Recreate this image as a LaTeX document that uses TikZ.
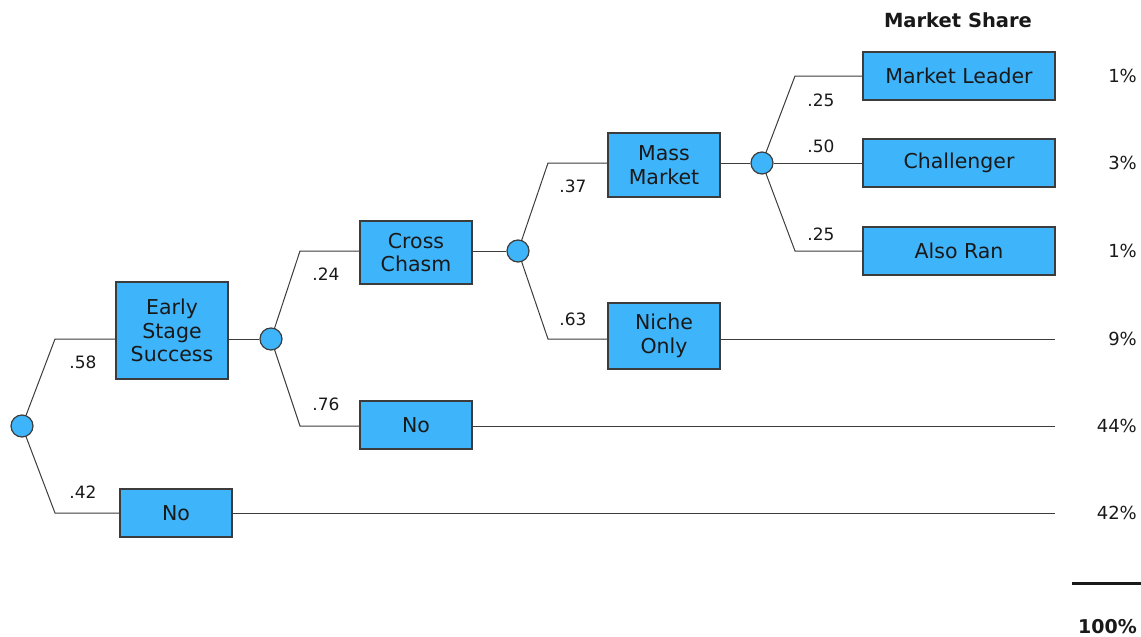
\documentclass[tikz,border=0pt]{standalone}
\usepackage{fontspec}
\setmainfont{DejaVu Sans}
\definecolor{boxblue}{RGB}{62,180,250}
\definecolor{linegray}{RGB}{60,60,60}
\definecolor{inkgray}{RGB}{25,25,25}
\begin{document}
\begin{tikzpicture}[x=1pt,y=-1pt,
  box/.style={draw=linegray, line width=1.4pt, fill=boxblue, inner sep=0pt,
    align=center, text=inkgray, font=\fontsize{20.5}{23.5}\selectfont},
  chance/.style={circle, draw=linegray, line width=1.2pt, fill=boxblue,
    minimum size=22pt, inner sep=0pt},
  branch/.style={draw=linegray, line width=1pt},
  prob/.style={text=inkgray, font=\fontsize{17}{20}\selectfont},
  share/.style={anchor=east, inner xsep=0pt, text=inkgray, font=\fontsize{18}{20}\selectfont}]
\useasboundingbox (0,0) rectangle (1141,637);

% chance nodes
\node[chance] (c0) at (22,426) {};
\node[chance] (c1) at (271,339) {};
\node[chance] (c2) at (518,251) {};
\node[chance] (c3) at (762,163) {};

% outcome boxes
\node[box, minimum width=112pt, minimum height=97pt] (ess) at (172,330.5) {Early\\Stage\\Success};
\node[box, minimum width=112pt, minimum height=48pt] (noA) at (176,513) {No};
\node[box, minimum width=112pt, minimum height=63pt] (cc) at (416,252.5) {Cross\\Chasm};
\node[box, minimum width=112pt, minimum height=48pt] (noB) at (416,425) {No};
\node[box, minimum width=112pt, minimum height=64pt] (mm) at (664,165) {Mass\\Market};
\node[box, minimum width=112pt, minimum height=66pt] (niche) at (664,336) {Niche\\Only};
\node[box, minimum width=192pt, minimum height=48pt] (ml) at (959,76) {Market Leader};
\node[box, minimum width=192pt, minimum height=48pt] (ch) at (959,163) {Challenger};
\node[box, minimum width=192pt, minimum height=48pt] (ar) at (959,251) {Also Ran};

% branch corners
\coordinate (k0u) at (55,339);
\coordinate (k0d) at (55,513);
\coordinate (k1u) at (300,251);
\coordinate (k1d) at (300,426);
\coordinate (k2u) at (548,163);
\coordinate (k2d) at (548,339);
\coordinate (k3u) at (795,76);
\coordinate (k3d) at (795,251);

% free ends of the terminal lines
\coordinate (eNiche) at (1055,339);
\coordinate (eNoB) at (1055,426);
\coordinate (eNoA) at (1055,513);

% branches
\draw[branch] (c0) -- (k0u) -- (ess.west |- k0u);
\draw[branch] (c0) -- (k0d) -- (noA.west |- k0d);
\draw[branch] (ess.east |- c1) -- (c1);
\draw[branch] (c1) -- (k1u) -- (cc.west |- k1u);
\draw[branch] (c1) -- (k1d) -- (noB.west |- k1d);
\draw[branch] (cc.east |- c2) -- (c2);
\draw[branch] (c2) -- (k2u) -- (mm.west |- k2u);
\draw[branch] (c2) -- (k2d) -- (niche.west |- k2d);
\draw[branch] (mm.east |- c3) -- (c3);
\draw[branch] (c3) -- (k3u) -- (ml.west |- k3u);
\draw[branch] (c3) -- (ch.west |- c3);
\draw[branch] (c3) -- (k3d) -- (ar.west |- k3d);
\draw[branch] (niche.east |- eNiche) -- (eNiche);
\draw[branch] (noB.east |- eNoB) -- (eNoB);
\draw[branch] (noA.east |- eNoA) -- (eNoA);

% probabilities
\node[prob] (p58) at (83,362) {.58};
\node[prob] (p42) at (83,492) {.42};
\node[prob] (p24) at (326,274) {.24};
\node[prob] (p76) at (326,404) {.76};
\node[prob] (p37) at (573,186) {.37};
\node[prob] (p63) at (573,319) {.63};
\node[prob] (p25a) at (821,100) {.25};
\node[prob] (p50) at (821,146) {.50};
\node[prob] (p25b) at (821,234) {.25};

% market share column
\node[text=inkgray, font=\bfseries\fontsize{19.5}{22}\selectfont] (hdr) at (958,20) {Market Share};
\node[share] (s1) at (1137,76) {1\%};
\node[share] (s2) at (1137,163) {3\%};
\node[share] (s3) at (1137,251) {1\%};
\node[share] (s4) at (1137,339) {9\%};
\node[share] (s5) at (1137,426) {44\%};
\node[share] (s6) at (1137,513) {42\%};
\coordinate (sumL) at (1072,583);
\coordinate (sumR) at (1141,583);
\draw[line width=3pt, draw=inkgray] (sumL) -- (sumR);
\node[share, font=\bfseries\fontsize{19}{22}\selectfont] (total) at (1137,627) {100\%};
\end{tikzpicture}
\end{document}
